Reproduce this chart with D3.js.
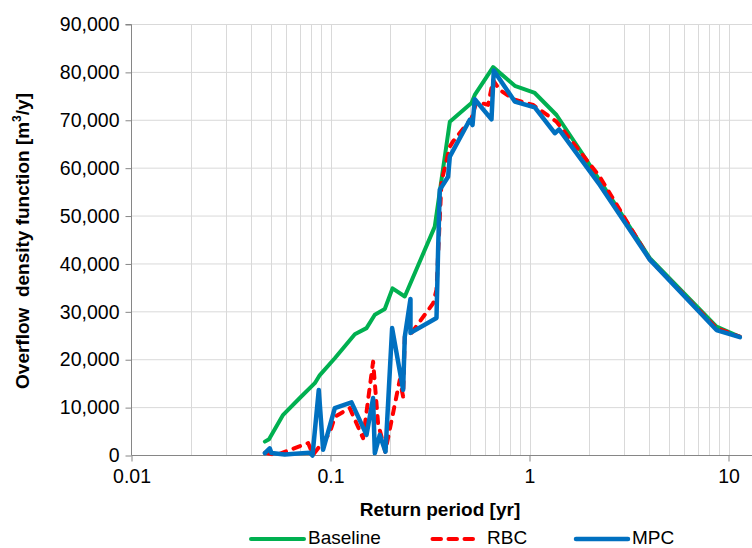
<!DOCTYPE html>
<html>
<head>
<meta charset="utf-8">
<script src="https://cdn.jsdelivr.net/npm/d3@7"></script>
<style>
  html, body { margin: 0; padding: 0; background: #fff; }
  svg { display: block; font-family: "Liberation Sans", Arial, sans-serif; }
</style>
</head>
<body>
<svg id="chart" width="752" height="548"></svg>
<script>
// ---- data ----
const baselineX = [0.0468,0.0491,0.0578,0.0701,0.0834,0.0884,0.1051,0.1325,0.1517,0.1670,0.1874,0.2049,0.2362,0.3342,0.3977,0.5111,0.5310,0.6563,0.8436,1.063,1.367,1.859,2.954,4.023,8.705,11.40];
const baselineY = [2900,3400,8500,12000,15100,16800,20300,25300,26600,29400,30600,34900,33200,47800,69700,73600,75300,81100,77200,75700,71100,62800,49900,41200,26900,24800];

const rbcX = [0.0468,0.0535,0.0772,0.0817,0.0992,0.1051,0.1250,0.1458,0.1637,0.1734,0.1885,0.2229,0.2317,0.2362,0.2553,0.3280,0.3409,0.3612,0.3977,0.4131,0.5111,0.5417,0.6194,0.6563,0.7090,0.8436,1.042,1.367,2.256,4.023,8.705,11.40];
const rbcY = [560,100,2600,150,4700,8100,9900,3600,19600,6700,800,15800,12300,24800,25600,31800,34600,57200,64500,65600,70400,73900,73200,78400,76300,74300,73200,69700,58200,40900,26600,24800];

const mpcX = [0.0468,0.0495,0.0505,0.0589,0.0787,0.0812,0.0873,0.0918,0.1051,0.1275,0.1517,0.1637,0.1670,0.1769,0.1890,0.2040,0.2317,0.2362,0.2523,0.2523,0.3409,0.3473,0.3541,0.3899,0.3977,0.5012,0.5172,0.5310,0.6442,0.6615,0.8436,1.063,1.340,1.408,2.256,4.023,8.705,11.40];
const mpcY = [500,1500,500,200,600,0,13700,1200,9900,11100,4300,12000,500,4300,800,26600,13700,24800,32700,25600,28700,42900,55500,58200,62400,70100,69000,74400,70200,80400,73900,72700,67300,68100,56500,40900,26200,24700];

const xTickValues = [0.01, 0.1, 1, 10];
const xTickLabels = ["0.01", "0.1", "1", "10"];
const yTickValues = [0,10000,20000,30000,40000,50000,60000,70000,80000,90000];

const seriesNames = ["Baseline", "RBC", "MPC"];
const seriesColors = ["#00B050", "#FF0000", "#0070C0"];

(function () {
// ---- layout ----
const svg = d3.select("#chart");
const pLeft = 131.5, pRight = 752, pTop = 24.5, pBottom = 455.5;
const decade = 199;
const xMax = Math.pow(10, (pRight - pLeft) / decade - 2);

const x = d3.scaleLog().domain([0.01, xMax]).range([pLeft, pRight]);
const y = d3.scaleLinear().domain([0, 90000]).range([pBottom, pTop]);

// gridlines
const minorVals = [];
for (let e = -2; e <= 1; e++) {
  for (let m = 1; m <= 9; m++) {
    const v = m * Math.pow(10, e);
    if (v <= xMax) minorVals.push(v);
  }
}
const grid = svg.append("g").attr("stroke", "#d9d9d9").attr("stroke-width", 1);
grid.selectAll("line.v").data(minorVals.filter(v => v > 0.01)).enter().append("line")
  .attr("x1", d => Math.round(x(d)) + 0.5).attr("x2", d => Math.round(x(d)) + 0.5)
  .attr("y1", pTop).attr("y2", pBottom);
grid.selectAll("line.h").data(yTickValues.filter(v => v > 0)).enter().append("line")
  .attr("x1", pLeft).attr("x2", pRight)
  .attr("y1", d => y(d)).attr("y2", d => y(d));

// axes
const yAxis = d3.axisLeft(y).tickValues(yTickValues).tickSize(6).tickPadding(6)
  .tickFormat(d3.format(","));
const gy = svg.append("g").attr("transform", `translate(${pLeft},0)`).call(yAxis);
gy.select(".domain").attr("stroke", "#868686").attr("d", `M-6,${pTop}H0V${pBottom}`);
gy.selectAll(".tick line").attr("stroke", "#868686");
gy.selectAll(".tick text").attr("font-size", 19.5).attr("fill", "#000")
  .attr("font-family", "Liberation Sans, Arial, sans-serif");

const xAxis = d3.axisBottom(x).tickValues(xTickValues).tickSize(6).tickPadding(8)
  .tickFormat((d, i) => xTickLabels[i]);
const gx = svg.append("g").attr("transform", `translate(0,${pBottom})`).call(xAxis);
gx.select(".domain").attr("stroke", "#868686").attr("d", `M${pLeft},0H${pRight}`);
gx.selectAll(".tick line").attr("stroke", "#868686");
gx.selectAll(".tick text").attr("font-size", 19.5).attr("fill", "#000")
  .attr("font-family", "Liberation Sans, Arial, sans-serif");

// lines
const line = d3.line().x(d => x(d[0])).y(d => y(d[1]));
const series = [
  { xs: baselineX, ys: baselineY, color: seriesColors[0], w: 4, dash: null },
  { xs: rbcX, ys: rbcY, color: seriesColors[1], w: 4, dash: "7,8" },
  { xs: mpcX, ys: mpcY, color: seriesColors[2], w: 4.5, dash: null }
];
series.forEach(s => {
  const pts = s.xs.map((v, i) => [v, s.ys[i]]);
  svg.append("path").datum(pts)
    .attr("d", line)
    .attr("fill", "none")
    .attr("stroke", s.color)
    .attr("stroke-width", s.w)
    .attr("stroke-linejoin", "round")
    .attr("stroke-linecap", "round")
    .attr("stroke-dasharray", s.dash);
});

// axis titles
svg.append("text")
  .attr("x", 440).attr("y", 516)
  .attr("text-anchor", "middle")
  .attr("font-size", 19).attr("font-weight", "bold")
  .text("Return period [yr]");

const yt = svg.append("text")
  .attr("transform", "translate(29,241) rotate(-90)")
  .attr("text-anchor", "middle")
  .attr("font-size", 19).attr("font-weight", "bold")
  .style("white-space", "pre");
yt.append("tspan").text("Overflow  density function [m");
yt.append("tspan").attr("font-size", 12).attr("dy", -8).text("3");
yt.append("tspan").attr("dy", 8).text("/y]");

// legend
const legendItems = [
  { name: seriesNames[0], color: seriesColors[0], x1: 251, x2: 304, tx: 308, dash: null, w: 4 },
  { name: seriesNames[1], color: seriesColors[1], x1: 432.5, x2: 476, tx: 487, dash: "8.5,7.5", w: 4 },
  { name: seriesNames[2], color: seriesColors[2], x1: 576, x2: 628, tx: 632, dash: null, w: 4.5 }
];
const lg = svg.append("g");
legendItems.forEach(it => {
  lg.append("line").attr("x1", it.x1).attr("x2", it.x2).attr("y1", 539).attr("y2", 539)
    .attr("stroke", it.color).attr("stroke-width", it.w).attr("stroke-linecap", "round")
    .attr("stroke-dasharray", it.dash);
  lg.append("text").attr("x", it.tx).attr("y", 544).attr("font-size", 19).text(it.name);
});
})();
</script>
</body>
</html>
